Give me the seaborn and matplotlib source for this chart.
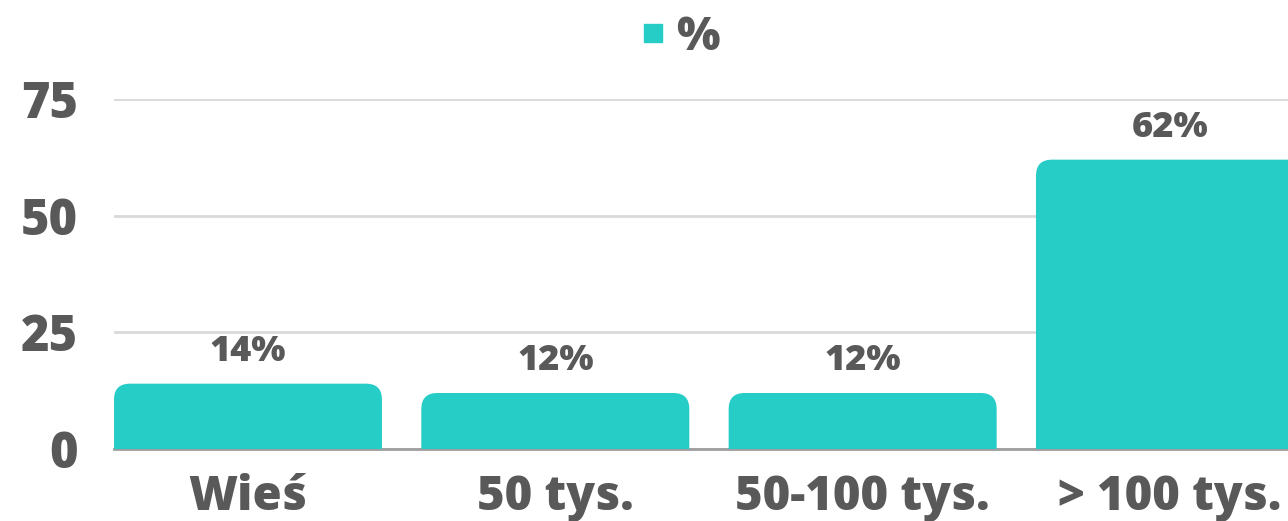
import numpy as np
import pandas as pd
import matplotlib
matplotlib.use("Agg")
import matplotlib.pyplot as plt
import seaborn as sns
from matplotlib.patches import FancyBboxPatch
from matplotlib.lines import Line2D

categories = ["Wieś", "50 tys.", "50-100 tys.", "> 100 tys."]
values = [14, 12, 12, 62]
yticks = [0, 25, 50, 75]
series_name = "%"

teal = "#26CDC7"
text_col = "#595959"
W = 800  # extra bold look

sns.set_theme(style="white")
plt.rcParams["font.family"] = ["Open Sans", "DejaVu Sans"]
plt.rcParams["font.weight"] = W

df = pd.DataFrame({"cat": categories, "val": values})

fig = plt.figure(figsize=(12.88, 5.21), dpi=100)
ax = fig.add_axes([0.0885, 0.1382, 0.9115, 0.6718])

sns.barplot(data=df, x="cat", y="val", color=teal, width=0.872, saturation=1, ax=ax)
ax.set_xlim(-0.436, 3.384)
ax.set_ylim(0, 75)

# rounded tops: swap the seaborn rectangles for rounded boxes
fig.canvas.draw()
px_x = ax.transData.transform((1, 0))[0] - ax.transData.transform((0, 0))[0]
px_y = ax.transData.transform((0, 1))[1] - ax.transData.transform((0, 0))[1]
r_px = 16
r_x = r_px / px_x
aspect = px_x / px_y
r_y = r_x * aspect
for p in ax.patches[:len(values)]:
    x, w, h = p.get_x(), p.get_width(), p.get_height()
    p.set_visible(False)
    box = FancyBboxPatch((x, -r_y), w, h + r_y,
                         boxstyle=f"round,pad=0,rounding_size={r_x}",
                         mutation_aspect=aspect, facecolor=teal,
                         edgecolor="none", zorder=3)
    ax.add_patch(box)

ax.bar_label(ax.containers[0], labels=[f"{v}%" for v in values], padding=10,
             fontsize=26, color=text_col, fontweight=W)

ax.set_yticks(yticks)
ax.yaxis.grid(True, color="#d9d9d9", linewidth=2)
ax.set_axisbelow(True)
for s in ["top", "right", "left"]:
    ax.spines[s].set_visible(False)
ax.spines["bottom"].set_color("#9e9e9e")
ax.spines["bottom"].set_linewidth(2)
ax.spines["bottom"].set_zorder(2)

ax.tick_params(axis="y", length=0, pad=26, labelsize=35, labelcolor=text_col)
ax.tick_params(axis="x", length=0, pad=18, labelsize=34, labelcolor=text_col)
for t in ax.get_xticklabels() + ax.get_yticklabels():
    t.set_fontweight(W)
ax.set_xlabel("")
ax.set_ylabel("")

handle = Line2D([], [], marker="s", linestyle="none", markersize=13,
                markerfacecolor=teal, markeredgecolor=teal)
fig.legend([handle], [series_name], loc="center", bbox_to_anchor=(0.524, 0.928),
           frameon=False, handletextpad=0.0, handlelength=1.0,
           prop={"size": 33, "weight": W}, labelcolor=text_col)

fig.savefig("out.png", dpi=100)
